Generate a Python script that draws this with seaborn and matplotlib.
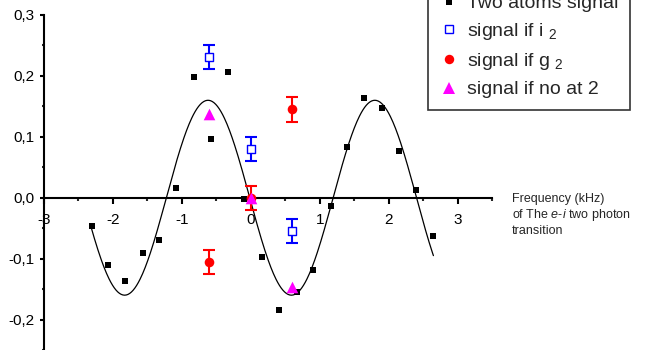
import numpy as np
import pandas as pd
import matplotlib
matplotlib.use("Agg")
import matplotlib.pyplot as plt
from matplotlib.lines import Line2D
from matplotlib.ticker import FixedLocator, MultipleLocator
import seaborn as sns

# Two-atom signal versus detuning of the e-i two-photon transition (kHz)
freq_two_atoms = [-2.31, -2.07, -1.82, -1.57, -1.33, -1.08, -0.83, -0.58, -0.33, -0.10,
                  0.16, 0.41, 0.67, 0.91, 1.16, 1.40, 1.65, 1.90, 2.15, 2.40, 2.65]
signal_two_atoms = [-0.047, -0.111, -0.137, -0.091, -0.069, 0.016, 0.199, 0.096, 0.206, -0.002,
                    -0.097, -0.185, -0.154, -0.118, -0.014, 0.084, 0.163, 0.147, 0.076, 0.012, -0.063]

# Conditional signals measured at three detunings
freq_cond = [-0.6, 0.0, 0.6]
signal_i2 = [0.231, 0.080, -0.055]
err_i2 = [0.020, 0.020, 0.020]
signal_g2 = [-0.106, 0.000, 0.145]
err_g2 = [0.020, 0.020, 0.020]
signal_none = [0.137, 0.000, -0.147]

# Sinusoidal fit of the two-atom signal
fit_amplitude = 0.16
fit_period = 2.42
fit_zero = -0.015
fit_range = (-2.33, 2.65)

x_ticks = [-3, -2, -1, 0, 1, 2, 3]
x_tick_labels = ["-3", "-2", "-1", "0", "1", "2", "3"]
y_ticks = [-0.2, -0.1, 0.0, 0.1, 0.2, 0.3]
y_tick_labels = ["-0,2", "-0,1", "0,0", "0,1", "0,2", "0,3"]

legend_labels = ["Two atoms signal", "signal if i $_2$", "signal if g $_2$", "signal if no at 2"]

sns.set_theme(style="ticks")
plt.rcParams["font.family"] = ["Liberation Sans", "DejaVu Sans"]
plt.rcParams["mathtext.fontset"] = "custom"
plt.rcParams["mathtext.rm"] = "Liberation Sans"
plt.rcParams["mathtext.it"] = "Liberation Sans:italic"
plt.rcParams["axes.unicode_minus"] = False

W, H = 666, 350
fig = plt.figure(figsize=(W / 100, H / 100), dpi=100)
ax = fig.add_axes([44 / W, 0, (492 - 44) / W, 335 / H])

# fit curve
xf = np.linspace(fit_range[0], fit_range[1], 400)
fit_df = pd.DataFrame({"freq": xf,
                       "fit": -fit_amplitude * np.sin(2 * np.pi * (xf - fit_zero) / fit_period)})
sns.lineplot(data=fit_df, x="freq", y="fit", color="black", lw=0.9, ax=ax, zorder=2)

# two-atom data
two_df = pd.DataFrame({"freq": freq_two_atoms, "signal": signal_two_atoms})
sns.scatterplot(data=two_df, x="freq", y="signal", marker="s", color="black",
                s=22, linewidth=0, ax=ax, zorder=3)

# error bars
ax.errorbar(freq_cond, signal_i2, yerr=err_i2, fmt="none", ecolor="#0000ff",
            elinewidth=1.5, capsize=4.3, capthick=1.5, zorder=4)
ax.errorbar(freq_cond, signal_g2, yerr=err_g2, fmt="none", ecolor="#ff0000",
            elinewidth=1.5, capsize=4.3, capthick=1.5, zorder=4)

cond_df = pd.DataFrame({"freq": freq_cond, "i2": signal_i2, "g2": signal_g2, "none": signal_none})
sns.scatterplot(data=cond_df, x="freq", y="i2", marker="s", facecolor="white",
                edgecolor="#0000ff", s=30, linewidth=1.0, ax=ax, zorder=5)
sns.scatterplot(data=cond_df, x="freq", y="g2", marker="o", color="#ff0000",
                s=48, linewidth=0, ax=ax, zorder=5)
sns.scatterplot(data=cond_df, x="freq", y="none", marker="^", color="#ff00ff",
                s=70, linewidth=0, ax=ax, zorder=6)

# axes styling
ax.set_xlim(-3, 3.5)
ax.set_ylim(-0.25, 0.3)
ax.set_xlabel("")
ax.set_ylabel("")
ax.spines["right"].set_visible(False)
ax.spines["top"].set_visible(False)
ax.spines["bottom"].set_position(("data", 0))
for side in ("left", "bottom"):
    ax.spines[side].set_linewidth(1.5)
    ax.spines[side].set_color("black")

ax.xaxis.set_major_locator(FixedLocator(x_ticks))
ax.set_xticklabels(x_tick_labels)
ax.xaxis.set_minor_locator(MultipleLocator(0.5))
ax.yaxis.set_major_locator(FixedLocator(y_ticks))
ax.set_yticklabels(y_tick_labels)
ax.yaxis.set_minor_locator(MultipleLocator(0.05))

ax.tick_params(axis="x", which="major", direction="out", length=4.5, width=1.5,
               pad=6.5, labelsize=11, colors="black")
ax.tick_params(axis="x", which="minor", direction="out", length=2.5, width=1.5)
ax.tick_params(axis="y", which="major", direction="out", length=3, width=1.5,
               pad=3.5, labelsize=11, colors="black")
ax.tick_params(axis="y", which="minor", direction="out", length=1.5, width=1.5)

fig.text(511.7 / W, 1 - 193 / H,
         "Frequency (kHz)\nof The $e$-$i$ two photon\ntransition",
         fontsize=9, va="top", ha="left", linespacing=1.2)

handles = [
    Line2D([], [], ls="none", marker="s", color="black", ms=4.2, mew=0),
    Line2D([], [], ls="none", marker="s", mfc="white", mec="#0000ff", ms=5.3, mew=1.0),
    Line2D([], [], ls="none", marker="o", color="#ff0000", ms=6.8, mew=0),
    Line2D([], [], ls="none", marker="^", color="#ff00ff", ms=8.5, mew=0),
]
leg = fig.legend(handles, legend_labels, loc="lower left",
                 bbox_to_anchor=(428 / W, 1 - 110 / H), borderaxespad=0,
                 fontsize=14, frameon=True, fancybox=False, shadow=False,
                 edgecolor="#333333", framealpha=1, handlelength=1.0,
                 handletextpad=0.4, borderpad=0.6, labelspacing=0.45)
leg.get_frame().set_linewidth(1.2)

fig.savefig("out.png", dpi=100)
